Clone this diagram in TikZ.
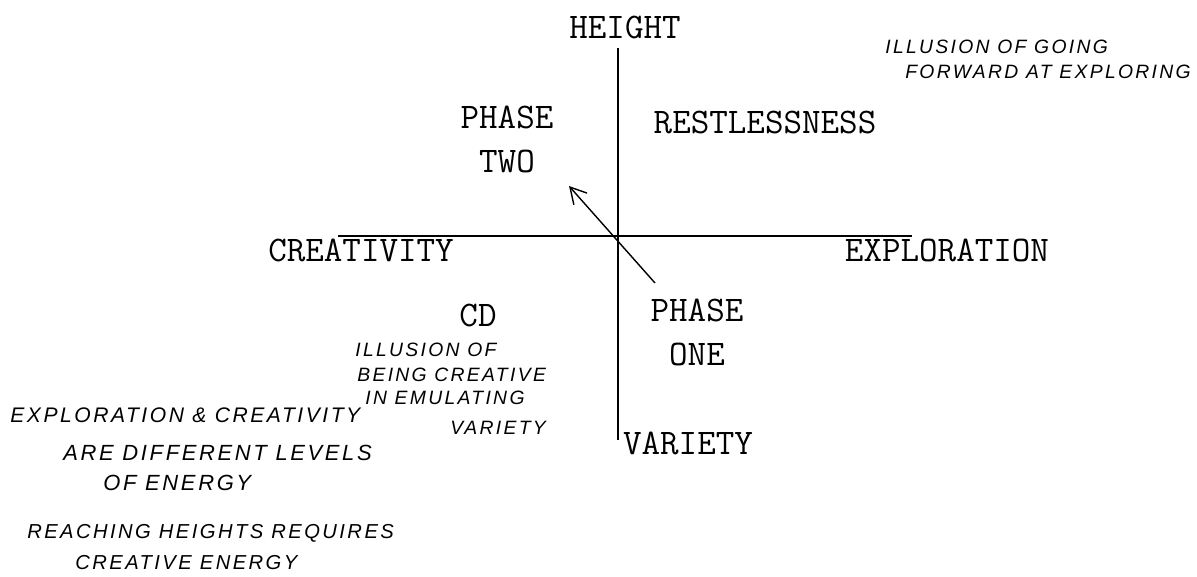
\documentclass[tikz,border=0pt]{standalone}
\usepackage{fontspec}
\newfontfamily\handfont[LetterSpace=12]{Liberation Sans}
\usetikzlibrary{arrows.meta, positioning, calc}
\tikzset{
  typed/.style = {font=\ttfamily\fontsize{20.5}{22}\selectfont, inner sep=0pt, align=center},
  hand/.style  = {font=\handfont\itshape\fontsize{11}{13}\selectfont, inner sep=0pt, anchor=west},
  bighand/.style = {hand, font=\handfont\itshape\fontsize{12.5}{14}\selectfont},
  axis/.style  = {line width=0.9pt},
  move/.style  = {-{Straight Barb[length=9pt, width=10pt]}, line width=0.8pt},
  x=0.02cm, y=-0.02cm
}
\begin{document}
\begin{tikzpicture}

  \useasboundingbox (0,0) rectangle (1197,576);

  % ── axes ──────────────────────────────────────────────────────────────────
  \coordinate (AxTop)   at (618,48);
  \coordinate (AxBot)   at (618,440);
  \coordinate (AxLeft)  at (338,236);
  \coordinate (AxRight) at (912,236);
  \draw[axis] (AxTop) -- (AxBot);
  \draw[axis] (AxLeft) -- (AxRight);

  % ── typed labels ──────────────────────────────────────────────────────────
  \node[typed] (Height)   at (625,27)  {HEIGHT};
  \node[typed] (PhTwo)    at (507,139) {PHASE\\[3pt]TWO};
  \node[typed] (Restless) at (765,122) {RESTLESSNESS};
  \node[typed] (Creat)    at (361,250) {CREATIVITY};
  \node[typed] (Explor)   at (947,250) {EXPLORATION};
  \node[typed] (CD)       at (478,315) {CD};
  \node[typed] (PhOne)    at (697,332) {PHASE\\[3pt]ONE};
  \node[typed] (Variety)  at (688,443) {VARIETY};

  % ── phase one -> phase two ────────────────────────────────────────────────
  \coordinate (MvStart) at (655,283);
  \coordinate (MvEnd)   at (569,186);
  \draw[move] (MvStart) -- (MvEnd);

  % ── handwritten notes ─────────────────────────────────────────────────────
  \node[hand] (NoteA1) at (885,47)  {ILLUSION OF GOING};
  \node[hand] (NoteA2) at (905,72)  {FORWARD AT EXPLORING};

  \node[hand] (NoteB1) at (355,350) {ILLUSION OF};
  \node[hand] (NoteB2) at (357,375) {BEING CREATIVE};
  \node[hand] (NoteB3) at (365,398) {IN EMULATING};
  \node[hand] (NoteB4) at (450,428) {VARIETY};

  \node[bighand, font=\handfont\itshape\fontsize{12}{14}\selectfont] (NoteC1) at (10,415) {EXPLORATION \& CREATIVITY};
  \node[bighand] (NoteC2) at (63,453)  {ARE DIFFERENT LEVELS};
  \node[bighand] (NoteC3) at (103,483) {OF ENERGY};
  \node[hand, font=\handfont\itshape\fontsize{11.5}{13}\selectfont] (NoteD1) at (27,533) {REACHING HEIGHTS REQUIRES};
  \node[hand, font=\handfont\itshape\fontsize{11.5}{13}\selectfont] (NoteD2) at (75,563) {CREATIVE ENERGY};

\end{tikzpicture}
\end{document}
